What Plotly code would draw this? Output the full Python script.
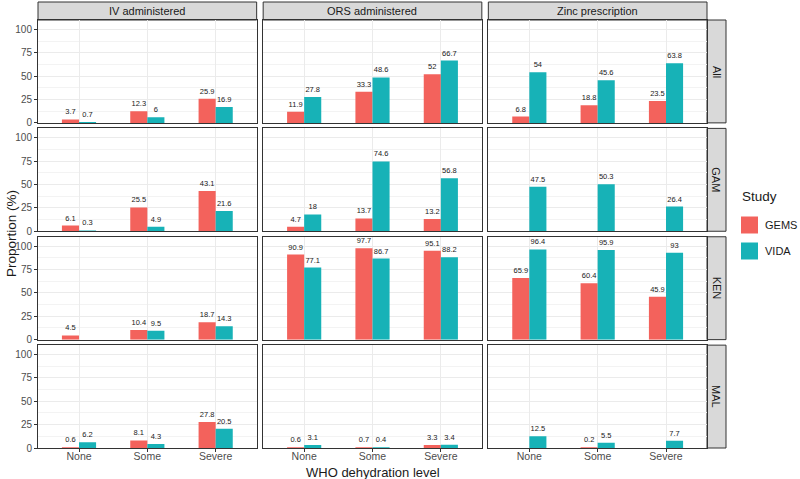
import plotly.graph_objects as go
from plotly.subplots import make_subplots

levels = ["None", "Some", "Severe"]
outcomes = ["IV administered", "ORS administered", "Zinc prescription"]
sites = ["All", "GAM", "KEN", "MAL"]
studies = ["GEMS", "VIDA"]

# All
all_iv_gems = [3.7, 12.3, 25.9]
all_iv_vida = [0.7, 6, 16.9]
all_ors_gems = [11.9, 33.3, 52]
all_ors_vida = [27.8, 48.6, 66.7]
all_zinc_gems = [6.8, 18.8, 23.5]
all_zinc_vida = [54, 45.6, 63.8]
# GAM
gam_iv_gems = [6.1, 25.5, 43.1]
gam_iv_vida = [0.3, 4.9, 21.6]
gam_ors_gems = [4.7, 13.7, 13.2]
gam_ors_vida = [18, 74.6, 56.8]
gam_zinc_gems = [None, None, None]
gam_zinc_vida = [47.5, 50.3, 26.4]
# KEN
ken_iv_gems = [4.5, 10.4, 18.7]
ken_iv_vida = [None, 9.5, 14.3]
ken_ors_gems = [90.9, 97.7, 95.1]
ken_ors_vida = [77.1, 86.7, 88.2]
ken_zinc_gems = [65.9, 60.4, 45.9]
ken_zinc_vida = [96.4, 95.9, 93]
# MAL
mal_iv_gems = [0.6, 8.1, 27.8]
mal_iv_vida = [6.2, 4.3, 20.5]
mal_ors_gems = [0.6, 0.7, 3.3]
mal_ors_vida = [3.1, 0.4, 3.4]
mal_zinc_gems = [None, 0.2, None]
mal_zinc_vida = [12.5, 5.5, 7.7]

y_ticks = [0, 25, 50, 75, 100]

table = {
    ("All", 0): (all_iv_gems, all_iv_vida),
    ("All", 1): (all_ors_gems, all_ors_vida),
    ("All", 2): (all_zinc_gems, all_zinc_vida),
    ("GAM", 0): (gam_iv_gems, gam_iv_vida),
    ("GAM", 1): (gam_ors_gems, gam_ors_vida),
    ("GAM", 2): (gam_zinc_gems, gam_zinc_vida),
    ("KEN", 0): (ken_iv_gems, ken_iv_vida),
    ("KEN", 1): (ken_ors_gems, ken_ors_vida),
    ("KEN", 2): (ken_zinc_gems, ken_zinc_vida),
    ("MAL", 0): (mal_iv_gems, mal_iv_vida),
    ("MAL", 1): (mal_ors_gems, mal_ors_vida),
    ("MAL", 2): (mal_zinc_gems, mal_zinc_vida),
}

colors = {"GEMS": "#F3625C", "VIDA": "#17B2B7"}
FONT = "Liberation Sans, Arial, Helvetica, sans-serif"

L, R, T, B = 38, 93, 20, 31
W, H = 800, 479
pw, ph = W - L - R, H - T - B

fig = make_subplots(rows=4, cols=3, shared_xaxes=True, shared_yaxes=True,
                    horizontal_spacing=6.5 / pw, vertical_spacing=5.5 / ph)


def fmt(v):
    return "" if v is None else f"{v:g}"


for r, site in enumerate(sites, start=1):
    for c in range(3):
        vals = table[(site, c)]
        for s, study in enumerate(studies):
            ys = vals[s]
            fig.add_trace(go.Bar(
                x=levels, y=ys, name=study, marker_color=colors[study],
                marker_line_width=0,
                text=[fmt(v) for v in ys], textposition="outside",
                textfont=dict(size=7.5, color="#1a1a1a", family=FONT),
                cliponaxis=False, constraintext="none",
                offsetgroup=study, legendgroup=study,
                showlegend=False,
            ), row=r, col=c + 1)

fig.update_layout(
    width=W, height=H, margin=dict(l=L, r=R, t=T, b=B, autoexpand=False),
    barmode="group", bargap=0.5, bargroupgap=0,
    plot_bgcolor="white", paper_bgcolor="white",
    font=dict(family=FONT, color="#1a1a1a"),
    showlegend=False,
)

fig.update_xaxes(showgrid=True, gridcolor="#EBEBEB", gridwidth=1,
                 showline=True, mirror=True, linecolor="#333333", linewidth=1,
                 range=[-0.6, 2.6], zeroline=False, automargin=False,
                 tickfont=dict(size=10.5, color="#4D4D4D"), ticks="")
fig.update_yaxes(showgrid=True, gridcolor="#EBEBEB", gridwidth=1,
                 showline=True, mirror=True, linecolor="#333333", linewidth=1,
                 range=[0, 110], zeroline=False, tickvals=y_ticks,
                 automargin=False,
                 minor=dict(tick0=12.5, dtick=25, showgrid=True,
                            gridcolor="#F3F3F3", gridwidth=0.6),
                 tickfont=dict(size=10, color="#4D4D4D"), ticks="")
for c in range(1, 4):
    fig.update_xaxes(ticks="outside", ticklen=3, tickcolor="#333333",
                     ticklabelstandoff=-5, row=4, col=c)
for r in range(1, 5):
    fig.update_yaxes(ticks="outside", ticklen=3, tickcolor="#333333", row=r, col=1)


def px_x(x):
    return (x - L) / pw


def px_y(y):
    return 1 - (y - T) / ph


# strips
strip_h = 18 / ph
strip_w = 19 / pw
shapes = []
annotations = []
for c in range(3):
    ax = fig.layout["xaxis" if c == 0 else f"xaxis{c + 1}"]
    x0, x1 = ax.domain
    shapes.append(dict(type="rect", xref="paper", yref="paper", x0=x0, x1=x1,
                       y0=1, y1=1 + strip_h, fillcolor="#D9D9D9",
                       line=dict(color="#333333", width=1), layer="below"))
    annotations.append(dict(text=outcomes[c], xref="paper", yref="paper",
                            x=(x0 + x1) / 2, y=1 + strip_h / 2, showarrow=False,
                            xanchor="center", yanchor="middle",
                            font=dict(size=11, color="#1a1a1a")))
for r in range(4):
    idx = r * 3 + 1
    ay = fig.layout["yaxis" if idx == 1 else f"yaxis{idx}"]
    y0, y1 = ay.domain
    shapes.append(dict(type="rect", xref="paper", yref="paper", x0=1,
                       x1=1 + strip_w, y0=y0, y1=y1, fillcolor="#D9D9D9",
                       line=dict(color="#333333", width=1), layer="below"))
    annotations.append(dict(text=sites[r], xref="paper", yref="paper",
                            x=1 + strip_w / 2, y=(y0 + y1) / 2, showarrow=False,
                            xanchor="center", yanchor="middle",
                            textangle=90, font=dict(size=11, color="#1a1a1a")))

# legend (drawn manually to match ggplot key layout)
annotations.append(dict(text="Study", xref="paper", yref="paper",
                        x=px_x(740), y=px_y(197), showarrow=False,
                        xanchor="left", yanchor="middle",
                        font=dict(size=13.5, color="#1a1a1a")))
for i, study in enumerate(studies):
    yc = 225 + i * 26
    shapes.append(dict(type="rect", xref="paper", yref="paper",
                       x0=px_x(741), x1=px_x(758), y0=px_y(yc - 8.5),
                       y1=px_y(yc + 8.5), fillcolor=colors[study],
                       line=dict(width=0)))
    annotations.append(dict(text=study, xref="paper", yref="paper",
                            x=px_x(763), y=px_y(yc), showarrow=False,
                            xanchor="left", yanchor="middle",
                            font=dict(size=11, color="#1a1a1a")))

annotations.append(dict(text="WHO dehydration level", xref="paper", yref="paper",
                        x=0.5, y=px_y(472.5), showarrow=False,
                        xanchor="center", yanchor="middle",
                        font=dict(size=13, color="#1a1a1a")))
annotations.append(dict(text="Proportion (%)", xref="paper", yref="paper",
                        x=px_x(11), y=0.5, showarrow=False, textangle=-90,
                        xanchor="center", yanchor="middle",
                        font=dict(size=13.5, color="#1a1a1a")))
fig.update_layout(shapes=shapes, annotations=annotations)

fig.write_html("out.html", config={"displayModeBar": False},
               post_script="document.body.style.margin='0px';"
                           "document.body.style.overflow='hidden';")
